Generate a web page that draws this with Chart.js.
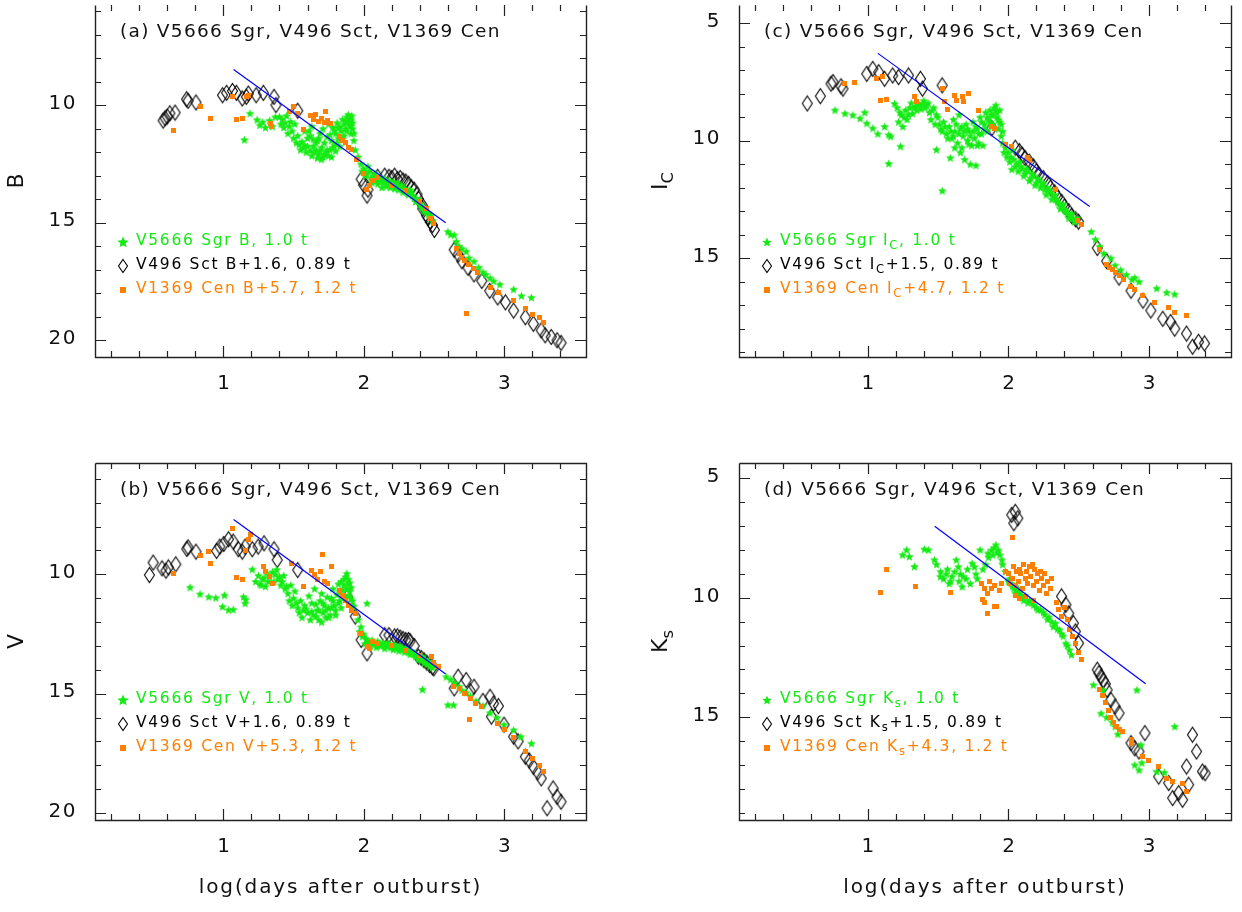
<!DOCTYPE html>
<html>
<head>
<meta charset="utf-8">
<script src="https://cdn.jsdelivr.net/npm/chart.js@4.4.1/dist/chart.umd.min.js"></script>
<style>
  html, body { margin: 0; padding: 0; background: #fff; }
  body { width: 1242px; height: 912px; position: relative; overflow: hidden; }
  canvas { position: absolute; }
</style>
</head>
<body>
<canvas id="chartA" width="621" height="456" style="left:0;top:0"></canvas>
<canvas id="chartC" width="621" height="456" style="left:621px;top:0"></canvas>
<canvas id="chartB" width="621" height="456" style="left:0;top:456px"></canvas>
<canvas id="chartD" width="621" height="456" style="left:621px;top:456px"></canvas>
<script>
// ---- data: [log(days), mag] ----

// (a) B band
var aSgr = [[1.15,11.47],[1.19,10.35],[1.24,10.62],[1.26,10.85],[1.28,10.72],[1.30,10.95],[1.33,10.65],[1.35,10.9],[1.37,10.5],
  [1.40,10.49],[1.42,10.6],[1.44,10.75],[1.45,10.45],[1.47,10.9],[1.49,11.1],[1.51,10.8],[1.53,11.3],[1.54,11.68],[1.56,11.55],
  [1.58,11.7],[1.60,11.4],[1.61,11.1],[1.63,10.9],[1.64,11.75],[1.66,11.9],[1.67,11.5],[1.68,12.1],[1.69,11.2],[1.70,11.8],
  [1.71,12.2],[1.72,11.6],[1.73,12.0],[1.74,11.35],[1.75,10.8],[1.76,11.9],[1.77,11.5],[1.78,10.95],[1.79,11.7],[1.80,11.2],
  [1.81,10.75],[1.82,11.4],[1.83,10.9],[1.84,11.1],[1.85,10.6],[1.86,10.8],[1.87,11.0],[1.88,10.5],[1.89,10.7],[1.90,10.6],
  [1.905,10.9],[1.91,11.2],[1.92,11.0],[1.93,11.5],[1.94,11.9],[1.96,12.2],
  [1.41,10.8],[1.43,10.95],[1.46,11.2],[1.48,10.7],[1.50,11.4],[1.52,11.6],[1.55,11.9],[1.57,11.8],[1.59,12.0],[1.60,11.75],
  [1.62,11.95],[1.63,12.15],[1.65,12.0],[1.66,11.6],[1.67,12.25],[1.69,11.95],[1.70,12.3],[1.72,12.1],[1.74,11.9],[1.75,12.15],
  [1.77,12.2],[1.78,11.8],[1.80,11.95],[1.81,11.6],[1.83,11.75],[1.84,11.4],[1.86,11.3],[1.88,11.1],[1.89,10.4],[1.895,10.8],
  [1.91,10.65],[1.915,10.45],[1.92,10.75],[1.93,11.2],[1.62,11.3],[1.58,11.1],[1.64,11.45],[1.68,11.4],[1.71,11.0],[1.76,11.25],
  [1.79,11.05],[1.82,10.95],[1.87,10.7],
  [1.98,12.5],[2.0,12.7],[2.02,12.9],[2.04,12.8],[2.05,13.1],[2.07,13.0],[2.09,13.2],[2.1,13.35],[2.12,13.1],[2.14,13.3],
  [2.16,13.45],[2.18,13.2],[2.2,13.4],[2.22,13.55],[2.24,13.3],[2.26,13.5],[2.28,13.7],[2.3,13.6],[2.32,13.8],[2.34,13.7],
  [2.36,13.95],[2.38,14.0],[2.4,14.2],[2.42,14.3],[2.44,14.45],[2.46,14.6],[2.48,14.7],
  [1.99,12.8],[2.01,13.0],[2.03,12.6],[2.06,13.3],[2.08,12.9],[2.11,13.25],[2.13,13.5],[2.15,13.15],[2.17,13.35],[2.19,13.5],
  [2.21,13.25],[2.23,13.45],[2.25,13.6],[2.27,13.4],[2.29,13.55],[2.31,13.75],[2.33,13.6],[2.35,13.85],[2.37,14.1],[2.39,14.05],
  [2.41,14.35],[2.43,14.5],[2.45,14.55],[2.47,14.8],[2.49,14.9],
  [2.60,15.38],[2.62,15.5],[2.645,15.52],[2.66,15.8],[2.68,16.0],[2.70,16.1],[2.73,16.22],[2.75,16.5],[2.786,16.64],[2.82,16.9],
  [2.85,17.1],[2.87,17.2],[2.9,17.35],[2.926,17.48],[2.97,17.62],[3.068,17.83],[3.124,18.11],[3.195,18.18]];
var aSct = [[0.571,10.66],[0.585,10.56],[0.60,10.49],[0.619,10.35],[0.656,10.32],[0.738,9.75],[0.749,9.82],[0.805,9.89],
  [0.994,9.58],[1.023,9.48],[1.065,9.40],[1.093,9.48],[1.135,9.72],[1.164,9.65],[1.178,9.51],[1.234,9.58],[1.285,9.48],
  [1.361,9.65],[1.375,10.0],[1.53,10.24],[1.982,13.15],[2.0,13.4],[2.024,13.85],[2.03,13.6],
  [2.15,13.0],[2.2,13.1],[2.24,13.15],[2.28,13.2],[2.32,13.35],[2.36,13.6],[2.39,13.99],[2.419,14.27],[2.447,14.69],
  [2.475,14.97],[2.504,15.31],[2.05,13.1],[2.1,13.05],[2.18,13.05],[2.22,13.0],[2.26,13.1],[2.3,13.25],[2.34,13.5],
  [2.38,13.8],[2.42,14.4],[2.46,14.8],[2.49,15.1],
  [2.645,16.15],[2.673,16.36],[2.70,16.64],[2.743,16.92],[2.786,17.2],[2.842,17.48],[2.898,17.9],
  [2.955,18.18],[3.01,18.39],[3.068,18.74],[3.152,19.02],[3.209,19.3],[3.265,19.58],[3.293,19.79],[3.336,19.86],[3.378,20.0],[3.406,20.11]];
var aCen = [[0.642,11.09],[0.834,10.07],[0.91,10.56],[1.065,9.65],[1.093,10.63],[1.135,10.56],[1.164,9.65],[1.18,9.6],
  [1.333,10.8],[1.34,10.9],[1.474,10.28],[1.50,10.07],[1.53,10.35],[1.57,11.05],[1.62,10.45],[1.64,10.6],[1.66,10.4],
  [1.68,10.7],[1.70,10.55],[1.72,10.75],[1.728,10.28],[1.74,10.65],[1.76,10.8],[1.83,11.35],[1.85,11.5],[1.87,11.6],
  [1.89,11.8],[1.91,11.9],[1.95,12.3],[2.0,12.9],[2.02,13.57],[2.04,13.4],[2.06,13.2],[2.1,13.1],[2.2,13.4],[2.3,13.65],
  [2.4,14.1],[2.45,14.4],[2.475,14.83],[2.50,15.03],[2.66,16.1],[2.68,16.3],[2.70,16.5],[2.72,16.6],[2.73,18.88],[2.75,16.8],
  [2.78,16.95],[2.81,17.1],[2.9,17.76],[2.96,17.95],[3.068,18.3],[3.15,18.65],[3.2,18.9],[3.25,19.05],[3.28,19.23]];
var aLine = [[1.073,8.49],[2.584,15.0]];

// (b) V band
var bSgr = [[0.763,10.54],[0.834,10.82],[0.896,10.94],[0.946,10.98],[1.008,10.87],[0.994,11.35],[1.037,11.49],[1.07,11.47],
  [1.144,10.94],[1.155,11.21],[1.16,11.05],[1.206,9.79],
  [1.23,10.3],[1.25,10.05],[1.26,10.4],[1.28,10.2],[1.30,10.5],[1.31,9.95],[1.33,10.1],[1.35,9.9],[1.37,10.0],[1.38,9.8],
  [1.40,10.1],[1.42,10.3],[1.44,10.6],[1.46,10.8],[1.48,10.45],[1.50,11.0],[1.52,11.2],[1.53,11.4],[1.55,11.1],[1.57,11.5],
  [1.58,11.3],[1.60,11.6],[1.61,10.9],[1.63,11.2],[1.64,11.7],[1.65,10.6],[1.67,11.5],[1.68,11.9],[1.69,11.1],[1.70,10.8],
  [1.71,11.6],[1.72,11.3],[1.73,11.8],[1.74,10.95],[1.75,11.4],[1.76,11.7],[1.77,11.0],[1.78,10.6],[1.79,11.3],[1.80,11.5],
  [1.81,10.85],[1.82,10.4],[1.83,11.1],[1.84,10.3],[1.85,10.65],[1.86,10.2],[1.87,10.9],[1.88,9.96],[1.89,10.4],[1.90,10.7],
  [1.91,11.0],[1.92,11.3],[1.93,11.35],[2.024,11.21],
  [1.45,10.5],[1.47,11.1],[1.49,11.3],[1.51,10.7],[1.54,11.6],[1.56,11.8],[1.59,11.45],[1.62,11.9],[1.63,11.55],[1.66,11.75],
  [1.66,11.25],[1.68,11.5],[1.70,12.0],[1.71,11.2],[1.73,11.5],[1.75,11.8],[1.77,11.4],[1.78,11.1],[1.80,11.7],[1.82,11.2],
  [1.83,10.7],[1.84,11.4],[1.85,10.9],[1.86,10.45],[1.87,10.1],[1.88,10.6],[1.89,10.2],[1.895,10.9],[1.90,10.35],[1.91,10.55],
  [1.92,11.1],[1.36,10.3],[1.39,10.2],[1.32,10.3],[1.27,10.45],[1.29,10.15],[1.43,10.05],[1.41,10.45],
  [1.96,11.9],[1.98,12.2],[2.0,12.5],[2.02,12.7],[2.04,12.9],[2.06,12.75],[2.08,12.9],[2.1,12.8],[2.12,13.0],[2.14,12.85],
  [2.16,13.0],[2.18,12.9],[2.2,13.05],[2.22,12.95],[2.24,13.1],[2.26,13.0],[2.28,13.15],[2.3,13.1],[2.32,13.25],[2.34,13.2],
  [2.36,13.35],[2.38,13.4],[2.4,13.5],[2.42,13.45],[2.44,13.6],[2.46,13.65],[2.48,13.75],[2.5,13.8],
  [1.97,12.4],[1.99,12.6],[2.01,12.9],[2.03,12.8],[2.05,13.0],[2.07,12.85],[2.09,13.05],[2.11,12.9],[2.13,12.95],[2.15,13.1],
  [2.17,12.9],[2.19,13.05],[2.21,13.15],[2.23,13.0],[2.25,13.2],[2.27,13.1],[2.29,13.25],[2.31,13.2],[2.33,13.35],[2.35,13.3],
  [2.37,13.45],[2.39,13.55],[2.41,13.6],[2.43,13.7],[2.45,13.75],[2.47,13.85],[2.49,13.9],
  [2.419,14.82],[2.60,15.47],[2.64,15.47],
  [2.588,14.29],[2.62,14.4],[2.65,14.55],[2.68,14.7],[2.70,14.85],[2.73,14.95],[2.76,15.1],[2.8,15.3],[2.85,15.5],[2.9,15.8],
  [2.95,16.0],[3.0,16.3],[3.068,16.52],[3.12,16.8],[3.195,17.08]];
var bSct = [[0.473,10.03],[0.50,9.51],[0.563,9.75],[0.591,9.85],[0.608,9.71],[0.661,9.58],[0.740,8.94],[0.749,8.87],[0.805,9.05],
  [0.952,9.02],[0.975,8.84],[1.003,8.73],[1.037,8.53],[1.07,8.63],[1.107,8.95],[1.135,9.05],[1.155,8.84],[1.206,8.95],
  [1.248,8.84],[1.29,8.70],[1.361,8.95],[1.384,9.40],[1.53,9.82],[1.883,10.94],[1.94,11.77],[1.982,12.75],[2.024,13.31],
  [2.15,12.55],[2.22,12.6],[2.26,12.65],[2.3,12.75],[2.33,12.8],[2.39,13.45],[2.43,13.6],[2.47,13.8],[2.50,13.94],
  [2.18,12.55],[2.24,12.6],[2.28,12.7],[2.32,12.75],[2.36,13.0],[2.41,13.5],[2.45,13.7],[2.49,13.9],
  [2.645,14.78],[2.673,14.29],[2.73,14.43],[2.76,14.9],[2.786,14.71],[2.85,15.3],[2.90,15.13],[2.925,15.41],[2.96,15.52],
  [2.91,15.96],[3.0,16.3],[3.068,16.80],[3.1,17.0],[3.152,17.64],[3.18,17.8],[3.209,18.06],[3.24,18.3],[3.265,18.55],
  [3.35,18.97],[3.378,19.32],[3.406,19.53],[3.307,19.80]];
var bCen = [[0.642,9.96],[0.834,9.23],[0.896,9.05],[0.91,9.54],[1.065,8.07],[1.093,10.14],[1.135,10.21],[1.178,8.56],
  [1.192,8.35],[1.16,9.0],[1.285,9.68],[1.30,9.9],[1.33,10.1],[1.35,10.38],[1.488,9.54],[1.57,10.52],[1.63,9.85],[1.65,10.0],
  [1.67,10.2],[1.69,9.9],[1.708,9.15],[1.72,10.3],[1.74,10.4],[1.77,9.68],[1.83,10.66],[1.85,10.9],[1.87,11.1],[1.89,11.3],
  [1.91,11.5],[1.94,11.63],[1.98,12.47],[2.024,13.03],[2.04,13.1],[2.06,12.8],[2.1,12.9],[2.2,13.0],[2.3,13.2],[2.4,13.4],
  [2.48,13.45],[2.5,13.7],[2.53,13.87],[2.64,14.7],[2.68,14.8],[2.72,15.0],[2.76,15.2],[2.8,15.4],[2.84,15.55],[2.757,16.1],
  [2.955,16.24],[3.0,16.5],[3.068,16.85],[3.152,17.43],[3.2,17.7],[3.25,18.0],[3.28,18.27]];
var bLine = [[1.073,7.70],[2.584,14.18]];

// (c) Ic band
var cSgr = [[0.768,8.70],[0.839,8.84],[0.895,8.91],[0.946,9.05],[0.98,8.80],[0.994,9.26],[1.037,9.47],[1.073,9.71],
  [1.121,9.40],[1.15,9.75],[1.164,9.82],[1.15,10.97],[1.234,10.24],[1.192,8.42],
  [1.22,9.2],[1.24,8.9],[1.25,9.4],[1.27,8.7],[1.28,9.1],[1.30,8.6],[1.32,8.85],[1.34,8.55],[1.36,8.4],[1.38,8.65],[1.40,8.3],
  [1.42,8.5],[1.44,8.8],[1.45,9.1],[1.47,8.6],[1.48,9.3],[1.489,10.38],[1.50,9.0],[1.52,9.5],[1.531,12.13],[1.54,9.2],
  [1.56,9.7],[1.58,9.4],[1.588,10.73],[1.60,9.9],[1.61,9.1],[1.62,9.6],[1.64,10.1],[1.65,8.9],[1.66,9.5],[1.67,10.3],
  [1.68,9.8],[1.69,10.8],[1.70,9.3],[1.71,10.0],[1.72,9.6],[1.73,11.0],[1.74,10.2],[1.75,9.2],[1.76,9.9],[1.77,11.05],
  [1.78,9.5],[1.79,10.1],[1.80,9.0],[1.81,9.7],[1.82,10.2],[1.83,9.3],[1.84,8.8],[1.85,9.6],[1.86,9.1],[1.87,8.7],[1.88,9.4],
  [1.89,8.9],[1.90,8.6],[1.912,8.49],[1.92,9.0],[1.93,9.5],[1.94,9.2],[1.95,9.8],
  [1.21,8.6],[1.23,8.8],[1.26,9.0],[1.29,8.9],[1.31,8.4],[1.33,8.6],[1.35,8.7],[1.37,8.5],[1.39,8.45],[1.41,8.6],[1.43,8.4],
  [1.46,8.7],[1.49,8.9],[1.51,9.3],[1.53,9.6],[1.55,9.4],[1.57,9.9],[1.59,9.6],[1.61,9.8],[1.63,9.3],[1.65,9.7],[1.67,9.4],
  [1.69,9.6],[1.71,9.5],[1.73,9.8],[1.75,9.6],[1.77,9.4],[1.79,9.7],[1.81,9.2],[1.83,9.5],[1.85,9.0],[1.87,9.2],[1.88,8.9],
  [1.89,9.3],[1.91,8.7],[1.92,8.8],[1.93,9.1],[1.94,8.7],[1.95,9.3],[1.96,9.6],[1.72,10.15],[1.78,10.2],[1.62,10.3],[1.66,10.5],
  [1.96,10.1],[1.98,10.3],[2.0,10.5],[2.02,10.7],[2.025,11.22],[2.04,10.8],[2.06,11.0],[2.08,10.9],[2.1,11.2],[2.12,11.4],
  [2.14,11.3],[2.16,11.6],[2.18,11.5],[2.2,11.8],[2.22,11.7],[2.24,11.9],[2.26,12.1],[2.28,12.0],[2.3,12.2],[2.32,12.4],
  [2.34,12.5],[2.36,12.7],[2.38,12.8],[2.40,12.95],[2.42,13.1],[2.44,13.2],[2.46,13.3],[2.48,13.4],
  [1.97,10.5],[1.99,10.7],[2.01,10.9],[2.03,10.4],[2.05,11.1],[2.07,11.3],[2.09,11.1],[2.11,11.5],[2.13,11.2],[2.15,11.7],
  [2.17,11.4],[2.19,11.9],[2.21,11.6],[2.23,12.0],[2.25,11.8],[2.27,12.3],[2.29,12.1],[2.31,12.5],[2.33,12.3],[2.35,12.6],
  [2.37,12.9],[2.39,12.7],[2.41,13.0],[2.43,13.3],[2.45,13.1],[2.47,13.45],[2.49,13.3],
  [2.59,13.87],[2.62,14.2],[2.65,14.5],[2.68,14.8],[2.73,15.0],[2.76,15.3],[2.80,15.5],[2.84,15.7],[2.88,15.9],[2.90,15.83],
  [2.93,16.0],[3.056,16.28],[3.127,16.46],[3.184,16.53]];
var cSct = [[0.571,8.42],[0.664,8.11],[0.740,7.58],[0.754,7.51],[0.811,7.69],[0.825,7.79],[0.994,7.16],[1.037,6.95],
  [1.079,7.09],[1.121,7.37],[1.178,7.23],[1.22,7.30],[1.291,7.23],[1.376,7.37],[1.39,7.79],[1.53,7.65],[1.884,9.47],
  [2.05,10.3],[2.1,10.6],[2.15,10.9],[2.2,11.3],[2.25,11.6],[2.3,12.0],[2.35,12.4],[2.4,12.8],[2.45,13.2],[2.5,13.45],
  [2.08,10.45],[2.12,10.75],[2.18,11.1],[2.22,11.45],[2.28,11.8],[2.33,12.2],[2.38,12.6],[2.43,13.0],[2.48,13.35],
  [2.633,14.57],[2.70,15.13],[2.788,15.83],[2.873,16.39],[2.958,16.81],[3.014,17.23],[3.099,17.58],[3.155,17.72],
  [3.184,18.0],[3.268,18.21],[3.311,18.77],[3.353,18.56],[3.396,18.63]];
var cCen = [[0.839,7.58],[0.91,7.55],[1.065,7.37],[1.107,7.27],[1.093,8.28],[1.136,8.24],[1.33,8.14],[1.35,8.35],
  [1.531,7.79],[1.545,8.35],[1.568,8.67],[1.616,8.07],[1.63,8.3],[1.672,8.14],[1.68,8.35],[1.715,8.0],[1.785,8.70],
  [1.884,9.40],[1.9,9.5],[1.983,10.17],[2.025,10.24],[2.138,10.73],[2.15,10.85],[2.336,12.06],[2.49,13.38],[2.52,13.59],
  [2.647,14.64],[2.70,15.27],[2.72,15.4],[2.74,15.5],[2.76,15.6],[2.788,15.76],[2.82,15.9],[2.87,16.2],[2.9,16.35],
  [2.958,16.6],[3.042,16.88],[3.141,17.09],[3.184,17.3],[3.268,17.44]];
var cLine = [[1.073,6.29],[2.579,12.80]];

// (d) Ks band
var dSgr = [[1.249,8.20],[1.277,7.99],[1.297,8.27],[1.333,8.69],[1.404,7.96],[1.432,7.99],[1.475,8.41],[1.49,8.6],
  [1.517,9.11],[1.54,9.2],[1.568,8.80],[1.59,9.3],[1.60,9.1],[1.63,8.41],[1.645,8.7],[1.66,9.0],[1.672,9.53],[1.70,9.2],
  [1.743,8.55],[1.77,9.0],[1.80,7.99],[1.82,8.8],[1.856,8.13],[1.88,8.0],[1.912,7.78],[1.93,8.0],[1.955,8.41],[1.98,8.9],
  [1.52,8.9],[1.56,9.0],[1.58,9.4],[1.62,8.9],[1.65,9.3],[1.68,9.1],[1.71,8.8],[1.73,9.4],[1.76,8.7],[1.78,9.2],[1.84,8.6],
  [1.86,8.3],[1.89,8.2],[1.90,7.9],[1.92,8.1],[1.94,8.2],[1.96,8.6],
  [2.0,9.3],[2.02,9.39],[2.04,9.6],[2.06,9.7],[2.08,9.8],[2.1,10.0],[2.12,9.9],[2.15,10.1],[2.18,10.3],[2.2,10.4],
  [2.23,10.5],[2.26,10.7],[2.29,10.8],[2.31,11.0],[2.336,11.06],[2.364,11.34],[2.39,11.6],[2.41,11.9],[2.435,12.18],[2.449,12.38],
  [2.01,9.2],[2.03,9.5],[2.05,9.8],[2.07,9.6],[2.09,9.9],[2.11,10.1],[2.14,10.2],[2.17,10.2],[2.21,10.5],[2.25,10.6],
  [2.28,10.9],[2.32,11.2],[2.35,11.3],[2.38,11.5],[2.42,12.0],
  [2.605,13.64],[2.675,13.85],[2.66,14.83],[2.70,15.0],[2.74,15.2],[2.76,15.38],[2.78,15.7],[2.915,13.85],[2.944,16.15],
  [2.90,16.99],[2.93,17.2],[2.95,16.9],[3.056,17.27],[3.11,17.3],[3.184,15.38]];
var dSct = [[2.025,6.53],[2.04,6.88],[2.05,6.4],[2.068,6.67],[2.379,9.94],[2.41,10.29],[2.43,10.65],[2.463,11.06],
  [2.477,11.41],[2.50,11.90],[2.633,13.01],[2.645,13.15],[2.66,13.3],[2.675,13.45],[2.69,13.6],[2.703,13.85],[2.73,14.27],
  [2.76,14.55],[2.788,14.83],[2.873,16.08],[2.90,16.3],[2.929,16.43],[2.972,15.66],[3.07,17.48],[3.141,17.75],[3.169,18.38],
  [3.212,18.17],[3.24,18.45],[3.283,17.82],[3.268,17.06],[3.31,15.73],[3.339,16.43],[3.381,17.27],[3.40,17.34]];
var dCen = [[1.093,9.76],[1.136,8.83],[1.342,9.53],[1.588,9.76],[2.03,7.46],
  [1.81,9.4],[1.83,9.6],[1.814,10.08],[1.83,10.2],[1.856,10.67],[1.85,9.8],[1.87,9.3],[1.88,9.6],[1.90,9.5],[1.90,10.36],
  [1.92,10.36],[1.94,9.7],[1.95,9.4],
  [1.98,8.9],[2.0,9.0],[2.01,9.4],[2.03,9.2],[2.04,8.7],[2.05,9.5],[2.06,8.9],[2.07,9.3],[2.08,8.8],[2.09,9.0],[2.10,9.6],
  [2.11,8.6],[2.12,9.2],[2.13,8.9],[2.14,9.4],[2.15,8.7],[2.16,9.1],[2.17,8.6],[2.18,9.5],[2.19,8.8],[2.20,9.3],[2.21,9.0],
  [2.22,9.7],[2.23,8.9],[2.24,9.2],[2.25,9.5],[2.26,9.0],[2.27,9.8],[2.28,9.3],[2.30,9.6],[2.31,9.2],[2.05,9.9],[2.08,10.05],
  [2.12,9.95],[2.18,10.1],
  [2.34,10.2],[2.36,10.5],[2.38,10.8],[2.40,10.4],[2.42,10.9],[2.435,11.34],[2.46,11.6],[2.48,11.9],[2.50,12.3],[2.52,12.59],
  [2.65,13.85],[2.67,14.1],[2.69,14.4],[2.71,14.7],[2.73,15.0],[2.75,15.2],[2.77,15.4],[2.79,15.5],[2.81,15.6],[2.873,15.94],
  [2.88,16.1],[2.958,16.64],[3.0,16.8],[3.07,17.06],[3.127,17.55],[3.17,17.7],[3.24,17.75],[3.268,18.1]];
var dLine = [[1.477,7.01],[2.977,13.60]];

// tick labels
var xTickLabels = [1, 2, 3];
var yTickLabelsA = [10, 15, 20];
var yTickLabelsB = [10, 15, 20];
var yTickLabelsC = [5, 10, 15];
var yTickLabelsD = [5, 10, 15];

// legend / title text, [text, isSubscript]
var legendA = [[['V5666 Sgr B, 1.0 t', 0]], [['V496 Sct B+1.6, 0.89 t', 0]], [['V1369 Cen B+5.7, 1.2 t', 0]]];
var legendB = [[['V5666 Sgr V, 1.0 t', 0]], [['V496 Sct V+1.6, 0.89 t', 0]], [['V1369 Cen V+5.3, 1.2 t', 0]]];
var legendC = [[['V5666 Sgr I', 0], ['C', 1], [', 1.0 t', 0]],
               [['V496 Sct I', 0], ['C', 1], ['+1.5, 0.89 t', 0]],
               [['V1369 Cen I', 0], ['C', 1], ['+4.7, 1.2 t', 0]]];
var legendD = [[['V5666 Sgr K', 0], ['s', 1], [', 1.0 t', 0]],
               [['V496 Sct K', 0], ['s', 1], ['+1.5, 0.89 t', 0]],
               [['V1369 Cen K', 0], ['s', 1], ['+4.3, 1.2 t', 0]]];

var FONT = '"DejaVu Sans", sans-serif';
var GREEN = 'rgb(20, 235, 20)';
var ORANGE = '#ff8000';
var TXT = '#111';

function pts(arr) {
    return arr.map(function (p) { return { x: p[0], y: p[1] }; });
}

function starImage(r, color) {
    var c = document.createElement('canvas');
    var s = Math.ceil(r * 2 + 2);
    c.width = s; c.height = s;
    var g = c.getContext('2d');
    g.fillStyle = color;
    g.beginPath();
    for (var i = 0; i < 10; i++) {
        var rr = i % 2 == 0 ? r : r * 0.45;
        var a = -Math.PI / 2 + i * Math.PI / 5;
        g.lineTo(s / 2 + rr * Math.cos(a), s / 2 + 0.5 + rr * Math.sin(a));
    }
    g.closePath();
    g.fill();
    return c;
}

function diamondImage(w, h) {
    var c = document.createElement('canvas');
    c.width = w + 3; c.height = h + 3;
    var g = c.getContext('2d');
    var cx = c.width / 2, cy = c.height / 2;
    g.strokeStyle = '#000';
    g.lineWidth = 1.1;
    g.beginPath();
    g.moveTo(cx, cy - h / 2);
    g.lineTo(cx + w / 2, cy);
    g.lineTo(cx, cy + h / 2);
    g.lineTo(cx - w / 2, cy);
    g.closePath();
    g.stroke();
    return c;
}

function squareImage(s, color) {
    var c = document.createElement('canvas');
    c.width = s; c.height = s;
    var g = c.getContext('2d');
    g.fillStyle = color;
    g.fillRect(0, 0, s, s);
    return c;
}

var starPt = starImage(4.5, GREEN);
var diamondPt = diamondImage(10, 15);
var squarePt = squareImage(5, ORANGE);

function drawSegs(ctx, segs, x, y, size, spacing) {
    var cx = x;
    segs.forEach(function (s) {
        var sz = s[1] ? size * 0.75 : size;
        ctx.font = sz + 'px ' + FONT;
        ctx.letterSpacing = spacing + 'px';
        ctx.fillText(s[0], cx, y + (s[1] ? size * 0.35 : 0));
        cx += ctx.measureText(s[0]).width;
    });
    return cx - x;
}

function segsWidth(ctx, segs, size, spacing) {
    var w = 0;
    segs.forEach(function (s) {
        ctx.font = (s[1] ? size * 0.75 : size) + 'px ' + FONT;
        ctx.letterSpacing = spacing + 'px';
        w += ctx.measureText(s[0]).width;
    });
    return w;
}

// frame, inward ticks on all sides, labels, panel title and legend
var panelDecor = {
    id: 'panelDecor',
    afterDraw: function (chart, args, o) {
        var ctx = chart.ctx, a = chart.chartArea, xs = chart.scales.x, ys = chart.scales.y;
        ctx.save();
        ctx.strokeStyle = '#222';
        ctx.lineWidth = 1.2;
        ctx.beginPath();
        var i, v, p, len;
        for (i = 1; i <= 17; i++) {
            v = i * 0.2;
            if (v <= xs.min || v >= xs.max) continue;
            p = Math.round(xs.getPixelForValue(v)) + 0.5;
            len = i % 5 == 0 ? 11 : 6;
            ctx.moveTo(p, a.bottom); ctx.lineTo(p, a.bottom - len);
            ctx.moveTo(p, a.top); ctx.lineTo(p, a.top + len);
        }
        for (v = Math.ceil(ys.min); v < ys.max; v++) {
            p = Math.round(ys.getPixelForValue(v)) + 0.5;
            len = v % 5 == 0 ? 11 : 6;
            ctx.moveTo(a.left, p); ctx.lineTo(a.left + len, p);
            ctx.moveTo(a.right, p); ctx.lineTo(a.right - len, p);
        }
        ctx.stroke();
        // frame (top edge of the upper panels lies just outside the page)
        var L = Math.round(a.left) + 0.5, R = Math.round(a.right) + 0.5;
        var T = Math.round(a.top) + 0.5, B = Math.round(a.bottom) + 0.5;
        ctx.lineWidth = 1.4;
        ctx.beginPath();
        ctx.moveTo(L, T); ctx.lineTo(L, B); ctx.lineTo(R, B); ctx.lineTo(R, T);
        if (!o.openTop) ctx.lineTo(L, T);
        ctx.stroke();

        ctx.fillStyle = TXT;
        ctx.textBaseline = 'middle';
        // tick labels
        ctx.font = '20px ' + FONT;
        ctx.letterSpacing = '1.5px';
        ctx.textAlign = 'center';
        xTickLabels.forEach(function (t) {
            ctx.fillText(String(t), xs.getPixelForValue(t) + 1, a.bottom + 27);
        });
        ctx.textAlign = 'right';
        o.yTicks.forEach(function (t) {
            ctx.fillText(String(t), a.left - 18, ys.getPixelForValue(t) - 1.5);
        });
        ctx.textAlign = 'left';

        // y title, rotated
        ctx.save();
        ctx.translate(a.left - 78, (a.top + a.bottom) / 2);
        ctx.rotate(-Math.PI / 2);
        var w = segsWidth(ctx, o.yTitle, 22, 0);
        drawSegs(ctx, o.yTitle, -w / 2, 0, 22, 0);
        ctx.restore();

        // x title
        if (o.xTitle) {
            ctx.font = '20px ' + FONT;
            ctx.letterSpacing = '1.9px';
            ctx.textAlign = 'center';
            ctx.fillText(o.xTitle, (a.left + a.right) / 2, a.bottom + 68);
            ctx.textAlign = 'left';
        }

        // panel title
        ctx.font = '18.5px ' + FONT;
        ctx.letterSpacing = '1.3px';
        ctx.fillText(o.title, a.left + 25, a.top + 27);

        // legend
        var colors = [GREEN, '#000', ORANGE];
        var syms = [o.legendStar, o.legendDiamond, o.legendSquare];
        for (i = 0; i < 3; i++) {
            var yy = a.top + 236 + i * 24;
            var im = syms[i];
            ctx.drawImage(im, Math.round(a.left + 28 - im.width / 2), Math.round(yy + 1 - im.height / 2));
            ctx.fillStyle = colors[i];
            drawSegs(ctx, o.legend[i], a.left + 41, yy, 15.5, 1.7);
        }
        ctx.restore();
    }
};

function makePanel(id, sgr, sct, cen, line, xr, yr, pad, decor) {
    var ctx = document.getElementById(id);
    return new Chart(ctx, {
        type: 'scatter',
        data: {
            datasets: [
                { data: pts(line), showLine: true, borderColor: '#0000ff', borderWidth: 1.2, pointRadius: 0, order: 0 },
                { data: pts(cen), pointStyle: squarePt, pointRadius: 3, order: 1 },
                { data: pts(sgr), pointStyle: starPt, pointRadius: 3, order: 2 },
                { data: pts(sct), pointStyle: diamondPt, pointRadius: 3, order: 3 }
            ]
        },
        options: {
            responsive: false,
            animation: false,
            events: [],
            layout: { padding: pad },
            scales: {
                x: { type: 'linear', min: xr[0], max: xr[1], display: false },
                y: { type: 'linear', min: yr[0], max: yr[1], reverse: true, display: false }
            },
            plugins: {
                legend: { display: false },
                tooltip: { enabled: false },
                panelDecor: decor
            }
        },
        plugins: [panelDecor]
    });
}

var xRange = [0.0855, 3.584];
var bigLegend = { legendStar: starImage(6, GREEN), legendDiamond: diamondImage(9, 13), legendSquare: squareImage(6, ORANGE) };
var smallLegend = { legendStar: starImage(5, GREEN), legendDiamond: diamondImage(9, 13), legendSquare: squareImage(6, ORANGE) };

makePanel('chartA', aSgr, aSct, aCen, aLine, xRange, [5.744, 20.713],
    { left: 95, right: 35, top: 0, bottom: 99 },
    Object.assign({ yTicks: yTickLabelsA, yTitle: [['B', 0]], title: '(a) V5666 Sgr, V496 Sct, V1369 Cen', legend: legendA, xTitle: null, openTop: true }, bigLegend));
makePanel('chartC', cSgr, cSct, cCen, cLine, xRange, [4.232, 19.207],
    { left: 118, right: 11, top: 0, bottom: 99 },
    Object.assign({ yTicks: yTickLabelsC, yTitle: [['I', 0], ['C', 1]], title: '(c) V5666 Sgr, V496 Sct, V1369 Cen', legend: legendC, xTitle: null, openTop: true }, smallLegend));
makePanel('chartB', bSgr, bSct, bCen, bLine, xRange, [5.337, 20.293],
    { left: 95, right: 35, top: 7, bottom: 92 },
    Object.assign({ yTicks: yTickLabelsB, yTitle: [['V', 0]], title: '(b) V5666 Sgr, V496 Sct, V1369 Cen', legend: legendB, xTitle: 'log(days after outburst)' }, bigLegend));
makePanel('chartD', dSgr, dSct, dCen, dLine, xRange, [4.36, 19.297],
    { left: 118, right: 11, top: 7, bottom: 92 },
    Object.assign({ yTicks: yTickLabelsD, yTitle: [['K', 0], ['s', 1]], title: '(d) V5666 Sgr, V496 Sct, V1369 Cen', legend: legendD, xTitle: 'log(days after outburst)' }, smallLegend));
</script>
</body>
</html>
